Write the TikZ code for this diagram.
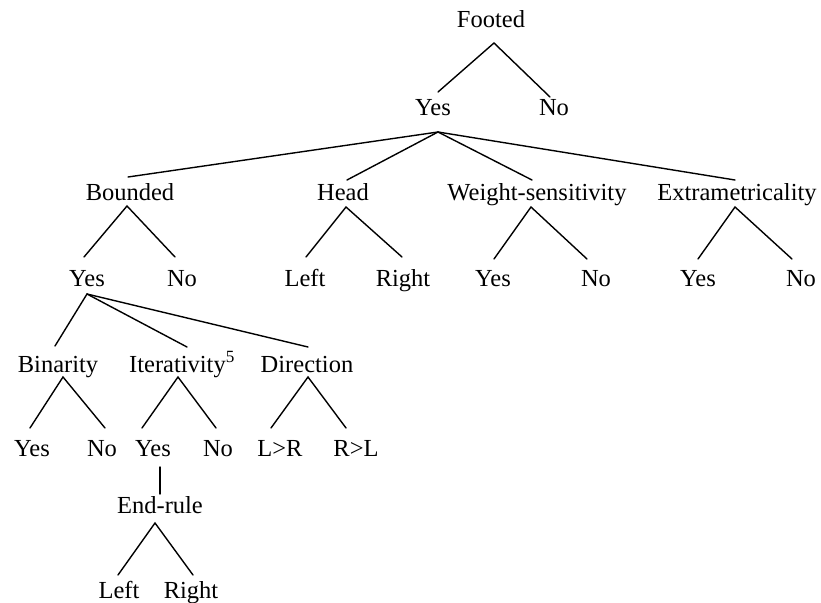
\documentclass[tikz,border=0pt]{standalone}
\usepackage{fontspec}
\setmainfont{Liberation Serif}
\begin{document}
\begin{tikzpicture}[x=1pt,y=-1pt,
  lbl/.style={anchor=base,inner sep=0pt,font=\fontsize{24.5}{29}\selectfont},
  branch/.style={line width=1.4pt,line cap=round}]
\useasboundingbox (0,0) rectangle (821,602);

% labels (x = centre, y = baseline)
\node[lbl] (footed) at (491,28) {Footed};
\node[lbl] (y1) at (433,115) {Yes};
\node[lbl] (n1) at (554,115) {No};

\node[lbl] (bounded) at (130,200) {Bounded};
\node[lbl] (head) at (343,200) {Head};
\node[lbl] (weight) at (537,200) {Weight-sensitivity};
\node[lbl] (extra) at (737,200) {Extrametricality};

\node[lbl] (y2) at (87,286) {Yes};
\node[lbl] (n2) at (182,286) {No};
\node[lbl] (left1) at (305,286) {Left};
\node[lbl] (right1) at (403,286) {Right};
\node[lbl] (yw) at (493,286) {Yes};
\node[lbl] (nw) at (596,286) {No};
\node[lbl] (ye) at (698,286) {Yes};
\node[lbl] (ne) at (801,286) {No};

\node[lbl] (binarity) at (58,372) {Binarity};
\node[lbl] (iter) at (182,372) {Iterativity\textsuperscript{5}};
\node[lbl] (direction) at (307,372) {Direction};

\node[lbl] (yb) at (32,456) {Yes};
\node[lbl] (nb) at (102,456) {No};
\node[lbl] (yi) at (153,456) {Yes};
\node[lbl] (ni) at (218,456) {No};
\node[lbl] (lr) at (280,456) {L>R};
\node[lbl] (rl) at (356,456) {R>L};

\node[lbl] (endrule) at (160,513) {End-rule};
\node[lbl] (left2) at (119,598) {Left};
\node[lbl] (right2) at (191,598) {Right};

% branches
\draw[branch] ([shift={(5,-23)}]y1.base) -- ([shift={(3,15)}]footed.base) -- ([shift={(-4,-18)}]n1.base);

\draw[branch] ([shift={(5,17)}]y1.base) -- ([shift={(-2,-23)}]bounded.base);
\draw[branch] ([shift={(5,17)}]y1.base) -- ([shift={(4,-20)}]head.base);
\draw[branch] ([shift={(5,17)}]y1.base) -- ([shift={(-5,-20)}]weight.base);
\draw[branch] ([shift={(5,17)}]y1.base) -- ([shift={(-2,-20)}]extra.base);

\draw[branch] ([shift={(-3,-29)}]y2.base) -- ([shift={(-3,6)}]bounded.base) -- ([shift={(-7,-29)}]n2.base);
\draw[branch] ([shift={(1,-29)}]left1.base) -- ([shift={(3,7)}]head.base) -- ([shift={(-1,-29)}]right1.base);
\draw[branch] ([shift={(1,-27)}]yw.base) -- ([shift={(-6,7)}]weight.base) -- ([shift={(-9,-27)}]nw.base);
\draw[branch] ([shift={(0,-27)}]ye.base) -- ([shift={(-2,7)}]extra.base) -- ([shift={(-9,-27)}]ne.base);

\draw[branch] ([shift={(0,8)}]y2.base) -- ([shift={(-3,-26)}]binarity.base);
\draw[branch] ([shift={(0,8)}]y2.base) -- ([shift={(5,-25)}]iter.base);
\draw[branch] ([shift={(0,8)}]y2.base) -- ([shift={(1,-25)}]direction.base);

\draw[branch] ([shift={(-2,-28)}]yb.base) -- ([shift={(5,5)}]binarity.base) -- ([shift={(3,-28)}]nb.base);
\draw[branch] ([shift={(-11,-28)}]yi.base) -- ([shift={(-4,5)}]iter.base) -- ([shift={(-2,-28)}]ni.base);
\draw[branch] ([shift={(-9,-28)}]lr.base) -- ([shift={(1,5)}]direction.base) -- ([shift={(-10,-28)}]rl.base);

\draw[branch] ([shift={(7,11)}]yi.base) -- ([shift={(0,-19)}]endrule.base);
\draw[branch] ([shift={(-1,-23)}]left2.base) -- ([shift={(-5,10)}]endrule.base) -- ([shift={(2,-23)}]right2.base);
\end{tikzpicture}
\end{document}
